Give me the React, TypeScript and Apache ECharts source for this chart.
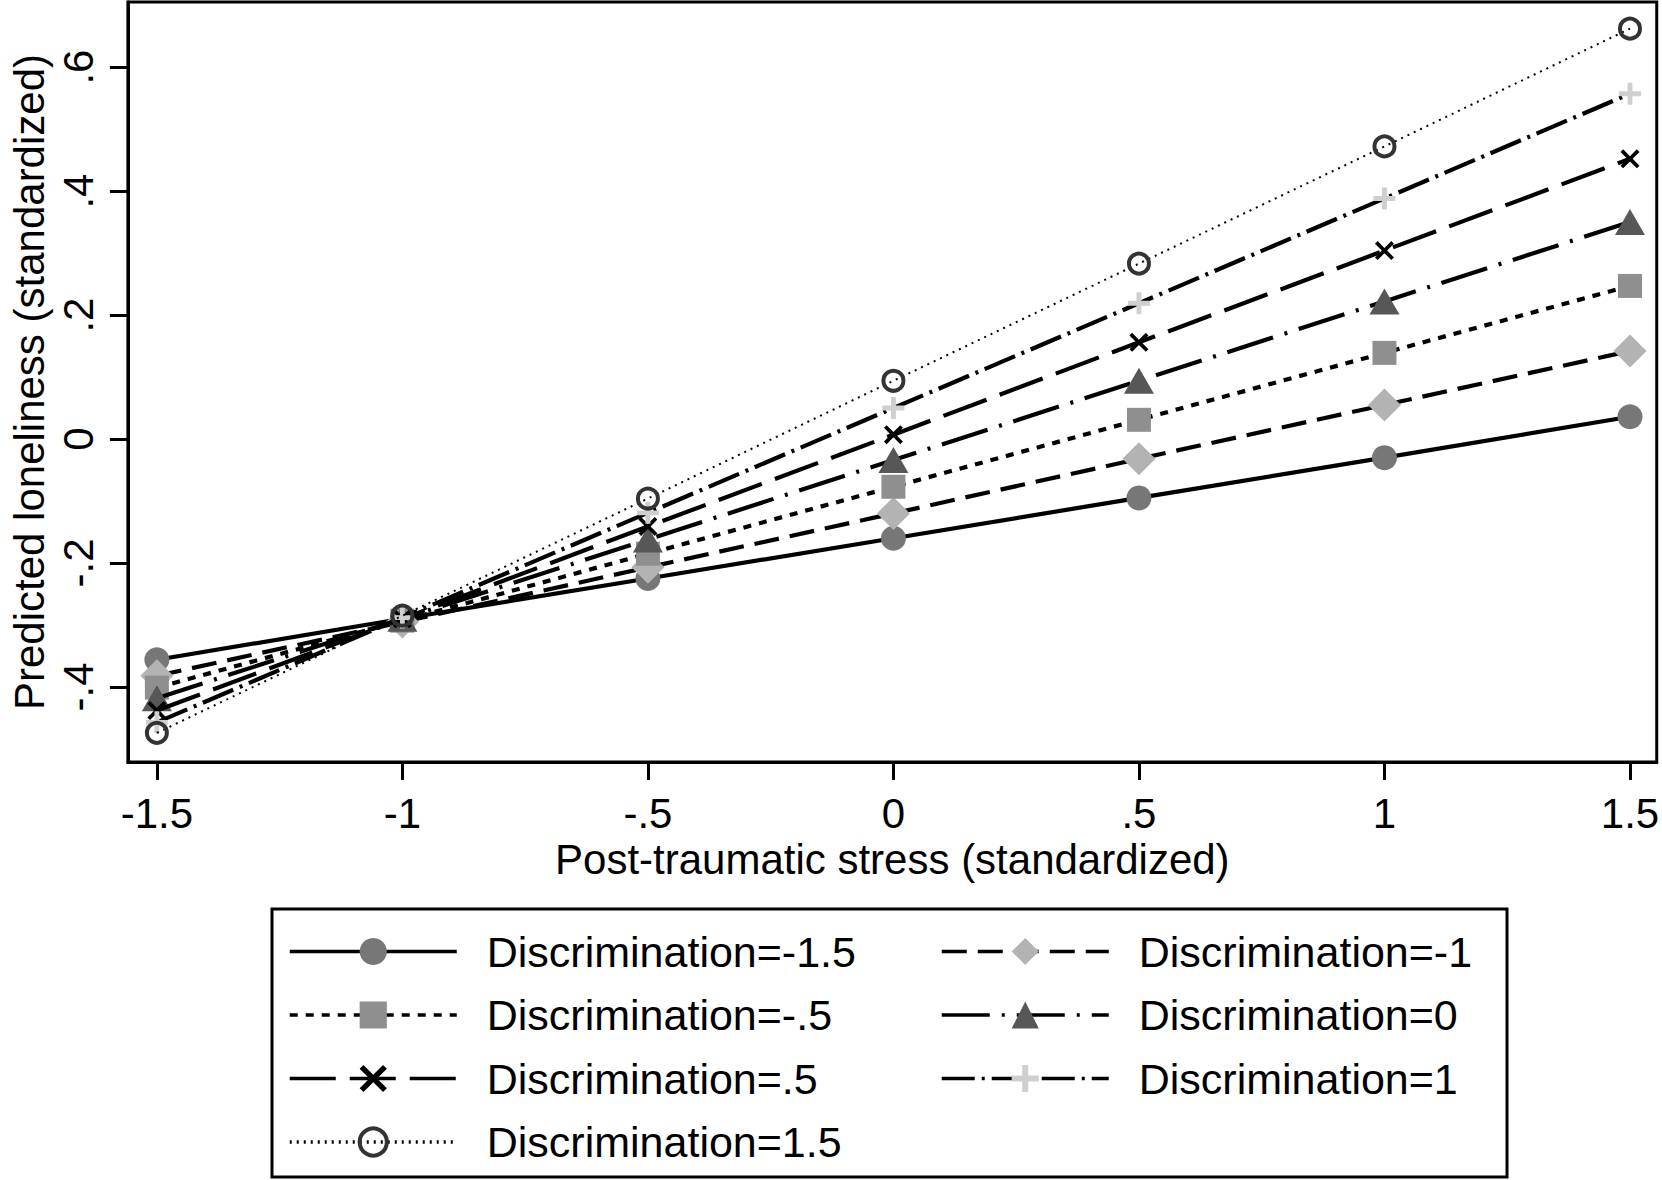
import React, { useEffect, useRef } from "react";
import * as echarts from "echarts";

const xValues = [-1.5, -1, -0.5, 0, 0.5, 1, 1.5];
const xTicks = [-1.5, -1, -0.5, 0, 0.5, 1, 1.5];
const yTicks = [-0.4, -0.2, 0, 0.2, 0.4, 0.6];

const seriesNames = [
  "Discrimination=-1.5",
  "Discrimination=-1",
  "Discrimination=-.5",
  "Discrimination=0",
  "Discrimination=.5",
  "Discrimination=1",
  "Discrimination=1.5",
];

const discM15 = [-0.356, -0.29, -0.225, -0.16, -0.095, -0.03, 0.036];
const discM10 = [-0.382, -0.295, -0.207, -0.12, -0.032, 0.055, 0.142];
const discM05 = [-0.401, -0.293, -0.185, -0.077, 0.031, 0.139, 0.247];
const disc00 = [-0.418, -0.29, -0.162, -0.034, 0.094, 0.222, 0.35];
const discP05 = [-0.438, -0.29, -0.141, 0.007, 0.156, 0.304, 0.452];
const discP10 = [-0.457, -0.288, -0.119, 0.05, 0.219, 0.388, 0.557];
const discP15 = [-0.474, -0.285, -0.096, 0.094, 0.283, 0.472, 0.662];

const allValues = [discM15, discM10, discM05, disc00, discP05, discP10, discP15];

const FONT = "'Liberation Sans', Arial, Helvetica, sans-serif";

const fmt = (v: number) => {
  let s = (Math.round(v * 100) / 100).toString();
  s = s.replace(/^(-?)0\./, "$1.");
  return s;
};

const plusPath = "path://M3.9,0 H6.1 V3.9 H10 V6.1 H6.1 V10 H3.9 V6.1 H0 V3.9 H3.9 Z";
const xPath =
  "path://M1.4,0 L5,3.6 L8.6,0 L10,1.4 L6.4,5 L10,8.6 L8.6,10 L5,6.4 L1.4,10 L0,8.6 L3.6,5 L0,1.4 Z";

const LW = 4.2;

const styles = [
  { symbol: "circle", size: 25 as any, color: "#777777", dash: "solid" as any, width: LW },
  { symbol: "diamond", size: 33, color: "#b3b3b3", dash: [25, 11], width: LW },
  { symbol: "rect", size: 24, color: "#8f8f8f", dash: [8, 8], width: LW },
  { symbol: "triangle", size: [30, 26], color: "#575757", dash: [48, 12, 3, 12], width: LW },
  { symbol: xPath, size: 19, color: "#000000", dash: [46, 14], width: LW },
  { symbol: plusPath, size: 22, color: "#cfcfcf", dash: [33, 7, 3, 7], width: LW },
  { symbol: "circle", size: 20, color: "#333333", dash: [2, 5], width: 2, hollow: true },
];

export default function App() {
  const ref = useRef<HTMLDivElement>(null);
  useEffect(() => {
    if (!ref.current) return;
    const chart = echarts.init(ref.current, null, { renderer: "svg" });
    const series = seriesNames.map((name, i) => {
      const st: any = styles[i];
      return {
        name,
        type: "line",
        data: xValues.map((x, j) => [x, allValues[i][j]]),
        symbol: st.symbol,
        symbolSize: st.size,
        showAllSymbol: true,
        lineStyle: { color: "#000", width: st.width, type: st.dash },
        itemStyle: st.hollow
          ? { color: "rgba(255,255,255,0)", borderColor: st.color, borderWidth: 4 }
          : { color: st.color, borderWidth: 0 },
        emphasis: { disabled: true },
        z: 2 + i,
      };
    });
    const legendText = {
      fontFamily: FONT,
      fontSize: 43,
      color: "#000",
      padding: [0, 0, 0, 25],
    };
    const legendCommon = {
      orient: "vertical",
      top: 925,
      itemWidth: 167,
      itemHeight: 34,
      itemGap: 20.5,
      textStyle: legendText,
      lineStyle: { width: 3.5 },
      selectedMode: false,
    };
    chart.setOption({
      animation: false,
      backgroundColor: "#fff",
      grid: {
        left: 118,
        right: 3,
        top: 2,
        bottom: 418,
        show: true,
        borderColor: "#000",
        borderWidth: 3,
        containLabel: false,
      },
      xAxis: {
        type: "value",
        min: -1.559,
        max: 1.5545,
        name: "Post-traumatic stress (standardized)",
        nameLocation: "middle",
        nameGap: 73,
        nameTextStyle: { fontFamily: FONT, fontSize: 42, color: "#000" },
        axisLine: { show: true, onZero: false, lineStyle: { color: "#000", width: 3 } },
        axisTick: { show: true, length: 18, lineStyle: { color: "#000", width: 3 }, customValues: xTicks },
        axisLabel: {
          fontFamily: FONT,
          fontSize: 42,
          color: "#000",
          margin: 30,
          customValues: xTicks,
          formatter: (v: number) => fmt(v),
        },
        splitLine: { show: false },
      },
      yAxis: {
        type: "value",
        min: -0.521,
        max: 0.705,
        name: "Predicted loneliness (standardized)",
        nameLocation: "middle",
        nameGap: 77,
        nameTextStyle: { fontFamily: FONT, fontSize: 42, color: "#000" },
        axisLine: { show: true, onZero: false, lineStyle: { color: "#000", width: 3 } },
        axisTick: { show: true, length: 18, lineStyle: { color: "#000", width: 3 }, customValues: yTicks },
        axisLabel: {
          fontFamily: FONT,
          fontSize: 42,
          color: "#000",
          margin: 28,
          rotate: 90,
          customValues: yTicks,
          formatter: (v: number) => fmt(v),
        },
        splitLine: { show: false },
      },
      legend: [
        {
          ...legendCommon,
          data: [
            seriesNames[0],
            seriesNames[2],
            seriesNames[4],
            { name: seriesNames[6], itemStyle: { borderWidth: 4, borderColor: "#333333" } },
          ],
          left: 283,
        },
        {
          ...legendCommon,
          data: [seriesNames[1], seriesNames[3], seriesNames[5]],
          left: 935,
        },
      ],
      graphic: [
        {
          type: "rect",
          shape: { x: 272, y: 909, width: 1235, height: 268 },
          style: { fill: "none", stroke: "#000", lineWidth: 3 },
          z: 0,
        },
      ],
      series,
    });
    return () => chart.dispose();
  }, []);
  return (
    <div
      ref={ref}
      style={{ position: "fixed", left: 0, top: 0, width: 1662, height: 1180, background: "#fff" }}
    />
  );
}
